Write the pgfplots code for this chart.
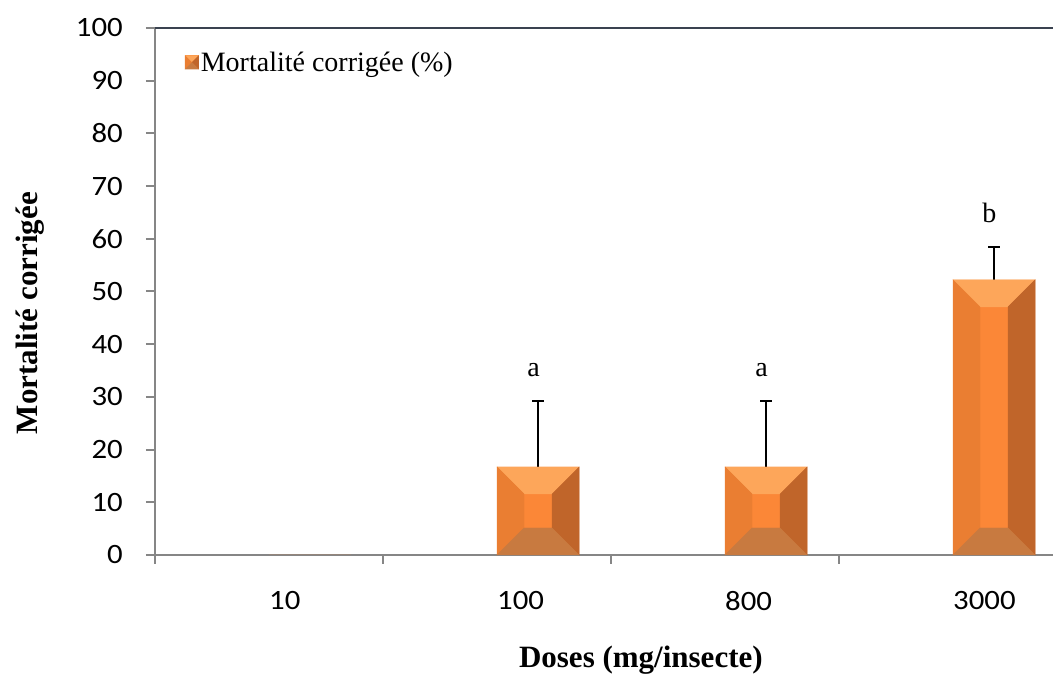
\documentclass[border=0pt]{standalone}
\usepackage{fontspec}
\setmainfont{Liberation Serif}
\newfontfamily\tickfont[FakeStretch=1.1]{Carlito}
\usepackage{pgfplots}
\usepackage{pgfplotstable}
\pgfplotsset{compat=1.18}
\definecolor{ctop}{RGB}{253,166,90}
\definecolor{cleft}{RGB}{234,126,50}
\definecolor{cright}{RGB}{192,101,42}
\definecolor{cbot}{RGB}{200,122,64}
\definecolor{cmid}{RGB}{251,135,55}
\definecolor{axgray}{RGB}{134,134,134}
\definecolor{topline}{RGB}{58,66,80}
\pgfplotstableread{
x y err
0 0 0
1 16.7 12.5
2 16.7 12.5
3 52.2 6.2
}\data
\begin{document}
\begin{tikzpicture}
\useasboundingbox (0pt,0pt) rectangle (1053pt,675pt);
\begin{axis}[
  at={(155pt,120pt)}, anchor=south west,
  x=228pt, y=5.27pt,
  xmin=-0.5, xmax=3.439, ymin=0, ymax=100,
  clip=false,
  axis x line*=bottom, axis y line*=left,
  axis line style={axgray, line width=2pt, -},
  tick style={axgray, line width=2pt},
  tick align=outside, major tick length=9pt, minor tick length=9pt,
  ytick={0,10,...,100},
  xtick={0,1,2,3}, xticklabels={10,100,800,3000},
  major x tick style={draw=none},
  minor xtick={-0.5,0.5,1.5,2.5},
  xticklabel style={anchor=north west, inner sep=0pt, yshift=-27pt},
  yticklabel style={anchor=east, inner sep=0pt, xshift=-23pt},
  tick label style={font=\tickfont\fontsize{28}{30}\selectfont},
  /pgf/number format/assume math mode=true,
  ylabel={Mortalité corrigée},
  ylabel style={at={(axis description cs:-0.139,0.459)}, anchor=center, font=\bfseries\fontsize{31}{34}\selectfont},
  xlabel={Doses (mg/insecte)},
  xlabel style={at={(axis description cs:0.541,-0.199)}, anchor=center, font=\bfseries\fontsize{31}{34}\selectfont},
  legend style={draw=none, fill=none, at={(0.033,0.935)}, anchor=west, inner sep=0pt, font=\fontsize{28}{30}\selectfont},
  legend cell align=left,
]
\addplot[ybar, bar width=0.36, bar shift=0.18, fill=cmid, draw=none,
  /pgfplots/legend image code/.code={
    \fill[cmid] (0pt,-7pt) rectangle (14pt,7pt);
    \fill[ctop] (0pt,7pt) -- (14pt,7pt) -- (7pt,0pt) -- cycle;
    \fill[cleft] (0pt,7pt) -- (7pt,0pt) -- (0pt,-7pt) -- cycle;
    \fill[cright] (14pt,7pt) -- (7pt,0pt) -- (14pt,-7pt) -- cycle;
    \fill[cbot] (0pt,-7pt) -- (7pt,0pt) -- (14pt,-7pt) -- cycle;
  }]
  table[x=x, y=y] {\data};
\addlegendentry{Mortalité corrigée (\%)}
\addplot[forget plot, scatter, only marks, mark=*, mark size=0pt,
  restrict y to domain=0.1:200,
  visualization depends on={\thisrow{y} \as \ry},
  scatter/@pre marker code/.code={
    \pgfmathsetmacro\hh{\ry*5.27}
    \pgfmathsetmacro\dd{min(27,\hh/2)}
    \pgfmathsetmacro\ww{82.08}
    \pgfmathsetmacro\wd{\ww-\dd}
    \pgfmathsetmacro\hd{-\hh+\dd}
    \pgfmathsetmacro\mh{-\hh}
    \begin{scope}
    \fill[ctop] (0pt,0pt) -- (\ww pt,0pt) -- (\wd pt,-\dd pt) -- (\dd pt,-\dd pt) -- cycle;
    \fill[cleft] (0pt,0pt) -- (\dd pt,-\dd pt) -- (\dd pt,\hd pt) -- (0pt,\mh pt) -- cycle;
    \fill[cright] (\ww pt,0pt) -- (\wd pt,-\dd pt) -- (\wd pt,\hd pt) -- (\ww pt,\mh pt) -- cycle;
    \fill[cbot] (0pt,\mh pt) -- (\dd pt,\hd pt) -- (\wd pt,\hd pt) -- (\ww pt,\mh pt) -- cycle;
  },
  scatter/@post marker code/.code={\end{scope}}]
  table[x=x, y=y] {\data};
\addplot[forget plot, draw=none, mark=none,
  restrict y to domain=0.1:200,
  error bars/.cd, y dir=plus, y explicit,
  error bar style={black, line width=1.6pt},
  error mark options={rotate=90, mark size=6pt, black, line width=1.6pt}]
  table[x expr=\thisrow{x}+0.18, y=y, y error=err] {\data};
\draw[topline, line width=2pt] (rel axis cs:0,1) -- (rel axis cs:1,1);
\node[font=\fontsize{28}{30}\selectfont] at (axis cs:1.16,35.1) {a};
\node[font=\fontsize{28}{30}\selectfont] at (axis cs:2.16,35.1) {a};
\node[font=\fontsize{28}{30}\selectfont] at (axis cs:3.16,64.9) {b};
\end{axis}
\end{tikzpicture}
\end{document}
